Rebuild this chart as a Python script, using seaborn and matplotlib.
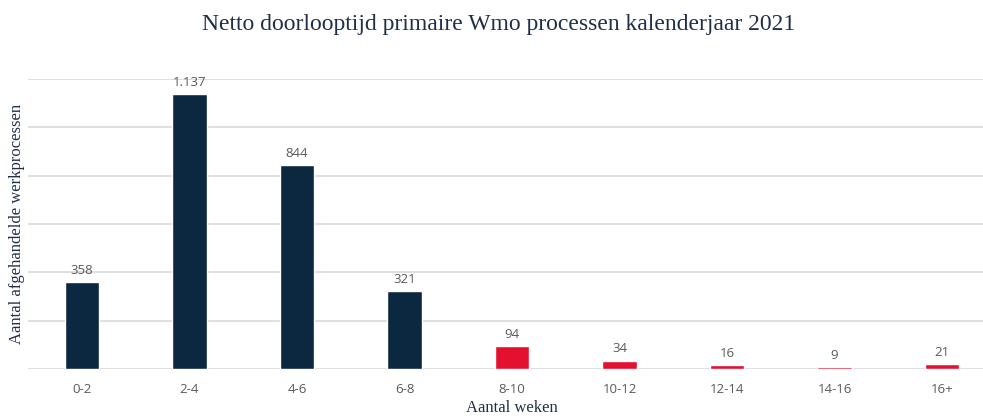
import matplotlib
matplotlib.use("Agg")
import matplotlib.pyplot as plt
import seaborn as sns
import pandas as pd

# weeks buckets and number of processed cases
categories = ["0-2", "2-4", "4-6", "6-8", "8-10", "10-12", "12-14", "14-16", "16+"]
values = [358, 1137, 844, 321, 94, 34, 16, 9, 21]
labels = ["358", "1.137", "844", "321", "94", "34", "16", "9", "21"]

navy = "#0c2740"
red = "#e3102f"
colors = [navy] * 4 + [red] * 5

sns.set_theme(style="white")
plt.rcParams['font.family'] = ['Open Sans', 'DejaVu Sans']

df = pd.DataFrame({"weken": categories, "aantal": values})

fig = plt.figure(figsize=(9.83, 4.16), dpi=100)
ax = fig.add_axes([28 / 983, 47 / 416, 968 / 983, 290 / 416])

sns.barplot(data=df, x="weken", y="aantal", hue="weken", palette=colors,
            width=0.32, legend=False, ax=ax, saturation=1)

ax.set_ylim(0, 1200)
ax.set_xlim(-0.5, 8.5)
ax.set_yticks(range(0, 1201, 200))
ax.yaxis.grid(True, color="#d9d9d9", linewidth=1.2)
ax.set_axisbelow(True)
ax.tick_params(axis="y", left=False, labelleft=False)
ax.tick_params(axis="x", bottom=False, labelsize=9.5, labelcolor="#595959", pad=4)
for s in ax.spines.values():
    s.set_visible(False)

for i, (v, lab) in enumerate(zip(values, labels)):
    ax.text(i, v + 22, lab, ha="center", va="bottom", fontsize=9.5,
            color="#595959", clip_on=False)

serif = ['Liberation Serif', 'DejaVu Serif']
ax.set_xlabel("Aantal weken", fontsize=12, color="#1f3046", family=serif)
ax.xaxis.set_label_coords(0.5, -39 / 290)
ax.xaxis.label.set_va("center")
ax.set_ylabel("Aantal afgehandelde werkprocessen", fontsize=12, color="#1f3046",
              family=serif)
ax.yaxis.set_label_coords(-3 / 968, 0.5)
fig.text(0.507, 0.94, "Netto doorlooptijd primaire Wmo processen kalenderjaar 2021",
         ha="center", va="center", fontsize=17, color="#1f3046", family=serif)

fig.savefig("out.png", dpi=100)
